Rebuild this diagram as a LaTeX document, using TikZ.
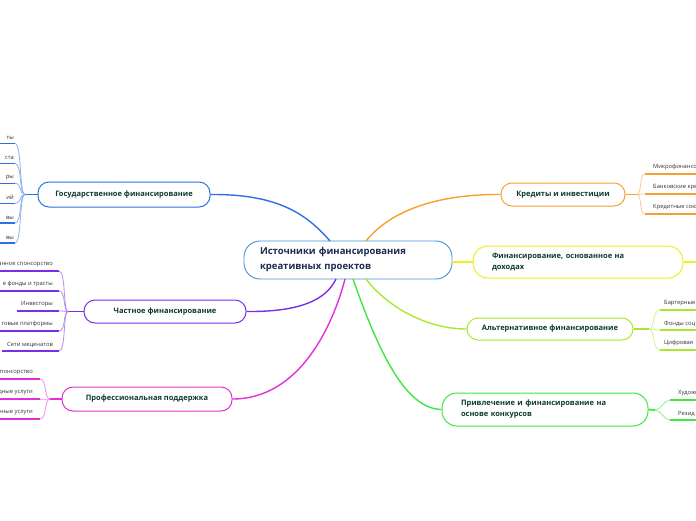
\documentclass[tikz,border=0pt]{standalone}
\usepackage{fontspec}
\setmainfont{Open Sans}
\definecolor{govc}{HTML}{2F6FE8}
\definecolor{privc}{HTML}{7A2EE6}
\definecolor{profc}{HTML}{E030D8}
\definecolor{credc}{HTML}{F5A030}
\definecolor{incc}{HTML}{EEEE22}
\definecolor{altc}{HTML}{A8E830}
\definecolor{contc}{HTML}{3EE83E}
\definecolor{centc}{HTML}{4A90D9}
\definecolor{titlegreen}{HTML}{0D3B2E}
\definecolor{navy}{HTML}{1B2A4E}
\definecolor{childgray}{HTML}{333333}
\tikzset{
  mainnode/.style={draw=#1, rounded corners=11pt, line width=1pt, fill=white,
    font=\fontsize{7.5}{11}\selectfont\bfseries, text=titlegreen, inner sep=0pt},
  childtext/.style={font=\fontsize{5.8}{7}\selectfont, text=childgray, inner sep=0pt},
  conn/.style={draw=#1, line width=1.4pt},
  twig/.style={draw=#1!55, line width=0.8pt},
  uline/.style={draw=#1, line width=1.3pt},
}
\begin{document}
\begin{tikzpicture}[x=1pt,y=-1pt]
\useasboundingbox (0,0) rectangle (696,520);
\clip (0,0) rectangle (696,520);

% center
\node[draw=centc, line width=0.9pt, rounded corners=16pt, fill=white, inner xsep=16pt, inner ysep=0pt,
  minimum height=38pt, text width=176pt, align=left, text=navy,
  font=\fontsize{9.5}{15}\selectfont\bfseries] (c) at (348,260)
  {Источники финансирования\\креативных проектов};

% main nodes
\node[mainnode=govc, minimum width=172pt, minimum height=25pt] (gov) at (124,194.5) {Государственное финансирование};
\node[mainnode=privc, minimum width=162pt, minimum height=23pt] (priv) at (165,311.5) {Частное финансирование};
\node[mainnode=profc, minimum width=170pt, minimum height=24pt] (prof) at (147,399) {Профессиональная поддержка};
\node[mainnode=credc, minimum width=124pt, minimum height=23pt] (cred) at (563,194.5) {Кредиты и инвестиции};
\node[mainnode=incc, rounded corners=15pt, inner xsep=19pt, text width=172pt, align=left, minimum height=32pt] (inc) at (578,262) {Финансирование, основанное на\\доходах};
\node[mainnode=altc, minimum width=166pt, minimum height=22pt] (alt) at (550,329) {Альтернативное финансирование};
\node[mainnode=contc, rounded corners=15pt, inner xsep=19pt, text width=168pt, align=left, minimum height=33pt] (cont) at (545,409.5) {Привлечение и финансирование на\\основе конкурсов};

% center connectors
\coordinate (cg) at (330,241);
\coordinate (cp) at (336,279);
\coordinate (cpr) at (345,279);
\coordinate (cct) at (353,279);
\coordinate (cal) at (366,279);
\coordinate (ccr) at (366,241);
\draw[conn=govc] (gov.east) .. controls (275,194) and (305,212) .. (cg);
\draw[conn=privc] (priv.east) .. controls (300,312) and (326,300) .. (cp);
\draw[conn=profc] (prof.east) .. controls (300,399) and (333,325) .. (cpr);
\draw[conn=contc] (cct) .. controls (378,350) and (405,409) .. (cont.west);
\draw[conn=altc] (cal) .. controls (390,310) and (430,329) .. (alt.west);
\draw[conn=credc] (ccr) .. controls (395,205) and (450,194) .. (cred.west);
\draw[conn=incc] (c.east |- inc.west) -- (inc.west);

% Government children
\coordinate (jg) at (25,194.5);
\draw[uline=govc, line width=1.8pt] (jg) -- (gov.west);
\foreach \t [count=\i] in {ты,ста,ры,ий,вы,вы}{
  \pgfmathsetmacro\yy{143.5+19.9*(\i-1)}
  \coordinate (g\i a) at (0,\yy);
  \coordinate (g\i b) at (15,\yy);
  \node[childtext, anchor=south east] (gt\i) at (14,\yy-3.5) {\t};
  \draw[uline=govc] (g\i a) -- (g\i b);
  \draw[twig=govc] (g\i b) .. controls (22,\yy) and (19,194.5) .. (jg);
}

% Private children
\coordinate (jp) at (68,311.5);
\draw[uline=privc, line width=1.8pt] (jp) -- (priv.west);
\foreach \t/\s [count=\i] in {ванное спонсорство/0,е фонды и трасты/0,Инвесторы/17,говые платформы/0,Сети меценатов/2}{
  \pgfmathsetmacro\yy{271+20*(\i-1)}
  \coordinate (p\i a) at (\s,\yy);
  \coordinate (p\i b) at (59,\yy);
  \node[childtext, anchor=south east] (pt\i) at (53,\yy-3.5) {\t};
  \draw[uline=privc] (p\i a) -- (p\i b);
  \draw[twig=privc] (p\i b) .. controls (66,\yy) and (63,311.5) .. (jp);
}

% Professional children
\coordinate (jpr) at (50,399);
\draw[uline=profc, line width=1.8pt] (jpr) -- (prof.west);
\foreach \t [count=\i] in {понсорство,дные услуги,нные услуги}{
  \pgfmathsetmacro\yy{379+20*(\i-1)}
  \coordinate (r\i a) at (0,\yy);
  \coordinate (r\i b) at (40,\yy);
  \node[childtext, anchor=south east] (rt\i) at (33,\yy-3.5) {\t};
  \draw[uline=profc] (r\i a) -- (r\i b);
  \draw[twig=profc] (r\i b) .. controls (47,\yy) and (44,399) .. (jpr);
}

% Credit children
\coordinate (jc) at (637,194.5);
\draw[uline=credc, line width=1.8pt] (cred.east) -- (jc);
\foreach \t [count=\i] in {Микрофинансо,Банковские кре,Кредитные сою}{
  \pgfmathsetmacro\yy{174+20*(\i-1)}
  \coordinate (k\i a) at (645,\yy);
  \coordinate (k\i b) at (696,\yy);
  \node[childtext, anchor=south west] (kt\i) at (653,\yy-3.5) {\t};
  \draw[uline=credc] (k\i a) -- (k\i b);
  \draw[twig=credc] (jc) .. controls (642,194.5) and (639,\yy) .. (k\i a);
}

% Income child
\coordinate (ie) at (696,262);
\draw[uline=incc] (inc.east) -- (ie);

% Alternative children
\coordinate (ja) at (649,329);
\draw[uline=altc, line width=1.8pt] (alt.east) -- (ja);
\foreach \t [count=\i] in {Бартерные,Фонды соц,Цифровая}{
  \pgfmathsetmacro\yy{310+20*(\i-1)}
  \coordinate (a\i a) at (660,\yy);
  \coordinate (a\i b) at (696,\yy);
  \node[childtext, anchor=south west] (at\i) at (664,\yy-3.5) {\t};
  \draw[uline=altc] (a\i a) -- (a\i b);
  \draw[twig=altc] (ja) .. controls (655,329) and (652,\yy) .. (a\i a);
}

% Contest children
\coordinate (jt) at (655,410);
\draw[uline=contc, line width=1.8pt] (cont.east) -- (jt);
\foreach \t [count=\i] in {Художе,Резид}{
  \pgfmathsetmacro\yy{400+20*(\i-1)}
  \coordinate (t\i a) at (670,\yy);
  \coordinate (t\i b) at (696,\yy);
  \node[childtext, anchor=south west] (tt\i) at (678,\yy-3.5) {\t};
  \draw[uline=contc] (t\i a) -- (t\i b);
  \draw[twig=contc] (jt) .. controls (661,410) and (664,\yy) .. (t\i a);
}
\end{tikzpicture}
\end{document}
